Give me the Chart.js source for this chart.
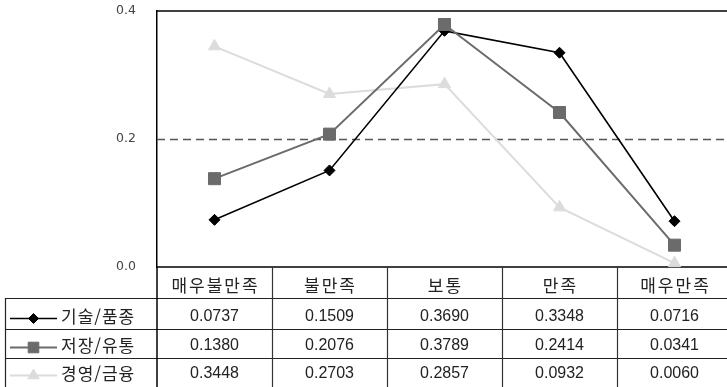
<!DOCTYPE html>
<html lang="ko">
<head>
<meta charset="utf-8">
<title>만족도 분포</title>
<script src="https://cdn.jsdelivr.net/npm/chart.js@4/dist/chart.umd.min.js"></script>
<style>
  html, body { margin: 0; padding: 0; background: #fff; overflow: hidden; }
  #wrap { width: 742px; height: 387px; }
</style>
</head>
<body>
<div id="wrap"><canvas id="c" width="742" height="387"></canvas></div>
<script>
// Response categories (x axis / table header)
const categories = ['매우불만족', '불만족', '보통', '만족', '매우만족'];
// Series names (table row headers)
const seriesNames = ['기술/품종', '저장/유통', '경영/금융'];
// Series values
const techValues = [0.0737, 0.1509, 0.3690, 0.3348, 0.0716];
const storageValues = [0.1380, 0.2076, 0.3789, 0.2414, 0.0341];
const mgmtValues = [0.3448, 0.2703, 0.2857, 0.0932, 0.0060];
// Y axis ticks
const yTicks = [0.0, 0.2, 0.4];
const refLineValue = 0.2;

const seriesValues = [techValues, storageValues, mgmtValues];
const seriesStyles = [
  { color: '#000000', point: 'rectRot', radius: 5.5, legendRadius: 5, width: 1.6, order: 1 },
  { color: '#6b6b6b', point: 'rect', radius: 8.5, legendRadius: 7.5, width: 2, order: 0 },
  { color: '#dcdcdc', point: 'triangle', radius: 7, legendRadius: 6.5, width: 2, order: 2 }
];

const KR_FONT = '"Noto Sans CJK KR", "Liberation Sans", sans-serif';
const NUM_FONT = '"Liberation Sans", "Noto Sans CJK KR", sans-serif';

// Table rows drawn under the plot, aligned with the category scale
const tableLayout = { headerBottom: 298, rowLines: [329, 358], bottom: 390, left: 5,
  headerText: 286, rowText: [317, 346, 374], legendLineX: [10, 57], legendLabelX: 61 };

const gridAndTable = {
  id: 'gridAndTable',
  beforeDatasetsDraw(chart) {
    const { ctx, chartArea, scales } = chart;
    const y = scales.y;
    const right = chart.width;
    ctx.save();
    // dashed reference line
    const yr = Math.round(y.getPixelForValue(refLineValue)) + 0.5;
    ctx.strokeStyle = '#555';
    ctx.lineWidth = 1.5;
    ctx.setLineDash([8, 5]);
    ctx.beginPath();
    ctx.moveTo(chartArea.left, yr);
    ctx.lineTo(right, yr);
    ctx.stroke();
    ctx.setLineDash([]);
    // top frame line
    const yt = y.getPixelForValue(yTicks[yTicks.length - 1]);
    ctx.strokeStyle = '#000';
    ctx.lineWidth = 1.5;
    ctx.beginPath();
    ctx.moveTo(chartArea.left, yt);
    ctx.lineTo(right, yt);
    ctx.stroke();
    // bottom axis line
    const yb = y.getPixelForValue(yTicks[0]);
    ctx.beginPath();
    ctx.moveTo(chartArea.left, yb);
    ctx.lineTo(right, yb);
    ctx.stroke();
    ctx.restore();
  },
  afterDraw(chart) {
    const { ctx, chartArea, scales } = chart;
    const x = scales.x;
    const T = tableLayout;
    const top = chartArea.bottom;
    const half = (x.getPixelForValue(1) - x.getPixelForValue(0)) / 2;
    ctx.save();
    // horizontal table lines
    ctx.strokeStyle = '#222';
    ctx.lineWidth = 1.2;
    [T.headerBottom].concat(T.rowLines).forEach(v => {
      ctx.beginPath();
      ctx.moveTo(T.left, v + 0.5);
      ctx.lineTo(chart.width, v + 0.5);
      ctx.stroke();
    });
    // vertical lines
    ctx.beginPath();
    ctx.moveTo(T.left + 0.5, T.headerBottom);
    ctx.lineTo(T.left + 0.5, T.bottom);
    ctx.stroke();
    ctx.lineWidth = 1.5;
    ctx.strokeStyle = '#000';
    ctx.beginPath();
    ctx.moveTo(chartArea.left, top);
    ctx.lineTo(chartArea.left, T.bottom);
    ctx.stroke();
    ctx.lineWidth = 1.2;
    ctx.strokeStyle = '#333';
    categories.forEach((c, i) => {
      const bx = Math.round(x.getPixelForValue(i) + half) + 0.5;
      ctx.beginPath();
      ctx.moveTo(bx, top);
      ctx.lineTo(bx, T.bottom);
      ctx.stroke();
    });
    // header labels
    ctx.fillStyle = '#222';
    ctx.textAlign = 'center';
    ctx.textBaseline = 'middle';
    ctx.font = '17px ' + KR_FONT;
    if ('letterSpacing' in ctx) ctx.letterSpacing = '2px';
    categories.forEach((c, i) => {
      ctx.fillText(c, x.getPixelForValue(i) + 1, T.headerText);
    });
    // value cells
    if ('letterSpacing' in ctx) ctx.letterSpacing = '0px';
    ctx.font = '16px ' + NUM_FONT;
    seriesValues.forEach((vals, r) => {
      vals.forEach((v, i) => {
        ctx.fillText(v.toFixed(4), x.getPixelForValue(i), T.rowText[r]);
      });
    });
    // row headers with line/marker samples
    seriesNames.forEach((name, r) => {
      const s = seriesStyles[r];
      const ty = T.rowText[r];
      const ly = ty + 1.5;
      ctx.strokeStyle = s.color;
      ctx.lineWidth = s.width;
      ctx.beginPath();
      ctx.moveTo(T.legendLineX[0], ly);
      ctx.lineTo(T.legendLineX[1], ly);
      ctx.stroke();
      ctx.fillStyle = s.color;
      ctx.strokeStyle = s.color;
      ctx.lineWidth = 1;
      Chart.helpers.drawPoint(ctx, { pointStyle: s.point, radius: s.legendRadius, rotation: 0, borderWidth: 1 },
        (T.legendLineX[0] + T.legendLineX[1]) / 2, ly);
      ctx.fillStyle = '#222';
      ctx.textAlign = 'left';
      ctx.font = '17px ' + KR_FONT;
      if ('letterSpacing' in ctx) ctx.letterSpacing = '1px';
      ctx.fillText(name, T.legendLabelX, ty);
      if ('letterSpacing' in ctx) ctx.letterSpacing = '0px';
    });
    ctx.restore();
  }
};

new Chart(document.getElementById('c'), {
  type: 'line',
  data: {
    labels: categories,
    datasets: seriesNames.map((name, r) => ({
      label: name,
      data: seriesValues[r],
      borderColor: seriesStyles[r].color,
      backgroundColor: seriesStyles[r].color,
      borderWidth: seriesStyles[r].width,
      pointStyle: seriesStyles[r].point,
      pointRadius: seriesStyles[r].radius,
      pointBorderWidth: 1,
      pointBackgroundColor: seriesStyles[r].color,
      pointBorderColor: seriesStyles[r].color,
      tension: 0,
      clip: false,
      order: seriesStyles[r].order
    }))
  },
  options: {
    responsive: false,
    animation: false,
    devicePixelRatio: 1,
    layout: { autoPadding: false, padding: { left: 0, top: 11, right: 10, bottom: 120 } },
    plugins: { legend: { display: false }, tooltip: { enabled: false } },
    scales: {
      x: { type: 'category', offset: true, display: false },
      y: {
        min: 0, max: 0.4,
        afterFit(scale) {
          scale.width = 157;
          scale.paddingTop = 0;
          scale.paddingBottom = 0;
        },
        afterBuildTicks(scale) { scale.ticks = yTicks.map(v => ({ value: v })); },
        ticks: {
          padding: 21,
          color: '#444',
          font: { family: '"DejaVu Sans", sans-serif', size: 12.5 },
          callback: v => Number(v).toFixed(1)
        },
        grid: { display: false, drawTicks: false },
        border: { display: true, color: '#000', width: 1.5 }
      }
    }
  },
  plugins: [gridAndTable]
});
</script>
</body>
</html>
